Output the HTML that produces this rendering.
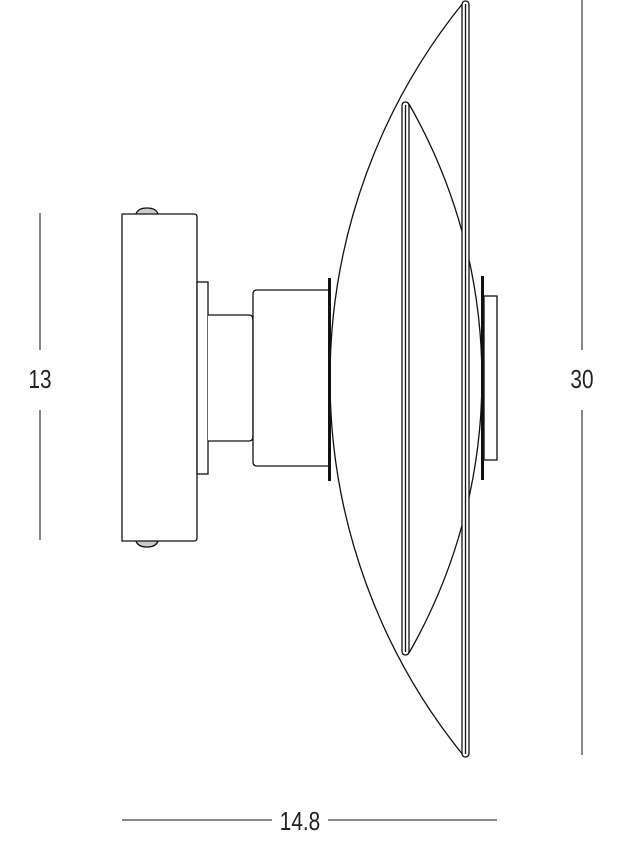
<!DOCTYPE html>
<html><head><meta charset="utf-8"><style>
html,body{margin:0;padding:0;background:#fff;}
svg{display:block;}
text{font-family:"Liberation Sans",sans-serif;font-size:26px;fill:#222;}
</style></head><body>
<svg width="621" height="848" viewBox="0 0 621 848" xmlns="http://www.w3.org/2000/svg">
<g fill="none" stroke="#111" stroke-width="1.3">
<!-- dimension lines -->
<line x1="40" y1="213" x2="40" y2="350" stroke-width="1"/>
<line x1="40" y1="410" x2="40" y2="540" stroke-width="1"/>
<line x1="582" y1="0" x2="582" y2="350" stroke-width="1"/>
<line x1="582" y1="410" x2="582" y2="755" stroke-width="1"/>
<line x1="122" y1="820" x2="272" y2="820" stroke-width="1"/>
<line x1="328" y1="820" x2="497" y2="820" stroke-width="1"/>
<!-- screws -->
<path d="M136 214 Q138 208 147 208 Q156 208 158 214" fill="#ccc"/>
<path d="M136 541 Q138 547 147 547 Q156 547 158 541" fill="#ccc"/>
<!-- wall plate -->
<path d="M122 214 H194 Q197 214 197 217 V538 Q197 541 194 541 H122 Z" fill="#fff"/>
<rect x="197" y="282" width="11" height="192" fill="#fff"/>
<!-- neck -->
<path d="M208 315 H249 Q253 315 253 320 V436 Q253 441 249 441 H208" fill="#fff"/>
<!-- cylinder -->
<path d="M329 290 H257 Q253 290 253 294 V462 Q253 466 257 466 H329" fill="#fff"/>
<!-- outer arc -->
<path d="M463 3 A598 598 0 0 0 463 755"/>
<!-- inner arc -->
<path d="M409 104 A553 553 0 0 1 409 653"/>
<!-- outer disk bar -->
<path d="M462 5 Q462 1 465.5 1 Q469 1 469 5 V753 Q469 757 465.5 757 Q462 757 462 753 Z" fill="#fff"/>
<line x1="465.5" y1="4" x2="465.5" y2="754"/>
<!-- inner disk bar -->
<path d="M402 106 Q402 102 405.5 102 Q409 102 409 106 V651 Q409 655 405.5 655 Q402 655 402 651 Z" fill="#fff"/>
<line x1="405.5" y1="105" x2="405.5" y2="652"/>
<!-- small rect right -->
<rect x="484" y="296" width="13" height="164" fill="#fff"/>
</g>
<!-- thick bars -->
<rect x="328" y="278" width="3" height="203" fill="#111"/>
<rect x="481" y="276" width="3" height="204" fill="#111"/>
<text x="40" y="388" text-anchor="middle" transform="translate(40 0) scale(0 1)" style="display:none">13</text>
<text transform="translate(40 388) scale(0.8 1)" text-anchor="middle" x="0" y="0">13</text>
<text transform="translate(582 388) scale(0.8 1)" text-anchor="middle" x="0" y="0">30</text>
<text transform="translate(300 830) scale(0.8 1)" text-anchor="middle" x="0" y="0">14.8</text>
</svg>
</body></html>
